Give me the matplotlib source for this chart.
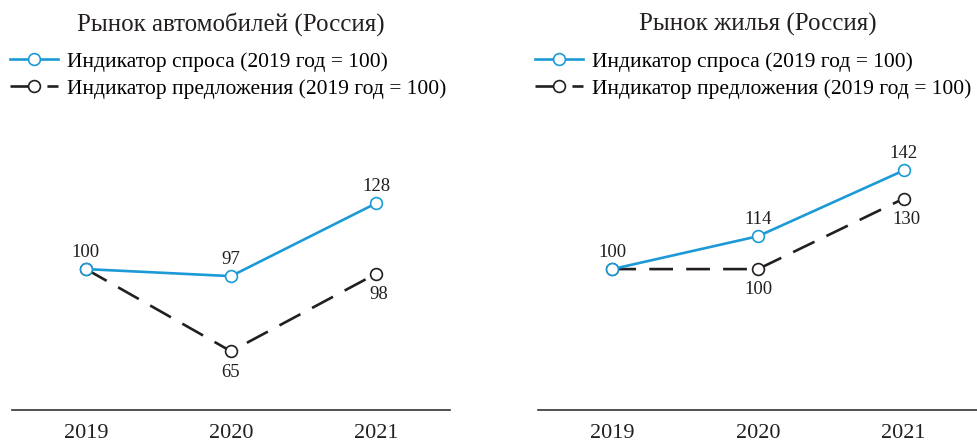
import matplotlib.pyplot as plt
from matplotlib.lines import Line2D

plt.rcParams['font.family'] = ['Liberation Serif', 'DejaVu Serif']

years = [2019, 2020, 2021]

cars_demand = [100, 97, 128]
cars_supply = [100, 65, 98]
housing_demand = [100, 114, 142]
housing_supply = [100, 100, 130]

titles = ['Рынок автомобилей (Россия)', 'Рынок жилья (Россия)']
demand_label = 'Индикатор спроса (2019 год = 100)'
supply_label = 'Индикатор предложения (2019 год = 100)'

blue = '#1b9ad6'
black = '#231f20'

fig = plt.figure(figsize=(9.78, 4.41), dpi=100)
ax1 = fig.add_axes([12 / 978, 31 / 441, 438 / 978, 310 / 441])
ax2 = fig.add_axes([538 / 978, 31 / 441, 440 / 978, 310 / 441])

# label offsets in points (dx, dy) for each point
cars_demand_off = [(0, 12), (0, 12), (0, 12)]
cars_supply_off = [(0, 12), (0, -15), (2, -15)]
housing_demand_off = [(0, 12), (0, 12), (0, 12)]
housing_supply_off = [(0, 12), (0, -15), (2, -15)]

panels = [
    (ax1, cars_demand, cars_supply, cars_demand_off, cars_supply_off, titles[0], -0.004),
    (ax2, housing_demand, housing_supply, housing_demand_off, housing_supply_off, titles[1], -0.006),
]

for ax, dem, sup, doff, soff, title, lx in panels:
    ax.plot(years, sup, color=black, lw=1.9, dashes=(9, 5), marker='o',
            markersize=8.5, markerfacecolor='white', markeredgecolor=black,
            markeredgewidth=1.2, zorder=2)
    ax.plot(years, dem, color=blue, lw=1.9, marker='o',
            markersize=8.5, markerfacecolor='white', markeredgecolor=blue,
            markeredgewidth=1.2, zorder=3)

    for i, y in enumerate(years):
        ax.annotate(str(dem[i]), (y, dem[i]), xytext=doff[i], textcoords='offset points',
                    ha='center', va='center', fontsize=13.5, color=black)
        if i > 0:
            ax.annotate(str(sup[i]), (y, sup[i]), xytext=soff[i], textcoords='offset points',
                        ha='center', va='center', fontsize=13.5, color=black)

    ax.set_xlim(2018.49, 2021.51)
    ax.set_ylim(40, 172)
    ax.set_xticks(years)
    ax.set_xticklabels([str(y) for y in years], fontsize=16)
    ax.tick_params(axis='x', length=0, pad=10, colors=black)
    ax.set_yticks([])
    for s in ['top', 'left', 'right']:
        ax.spines[s].set_visible(False)
    ax.spines['bottom'].set_color('#333333')
    ax.spines['bottom'].set_linewidth(1.2)
    ax.patch.set_alpha(0)

    ax.set_title(title, fontsize=18, color=black, pad=50)

    h_dem = Line2D([], [], color=blue, lw=1.9, marker='o', markersize=8.5,
                   markerfacecolor='white', markeredgecolor=blue, markeredgewidth=1.2)
    h_sup = Line2D([], [], color=black, lw=1.9, dashes=(9, 5), marker='o', markersize=8.5,
                   markerfacecolor='white', markeredgecolor=black, markeredgewidth=1.2)
    ax.legend([h_dem, h_sup], [demand_label, supply_label],
              loc='upper left', bbox_to_anchor=(lx, 1.155), frameon=False,
              fontsize=15.5, handlelength=2.2, handletextpad=0.45,
              borderpad=0, borderaxespad=0, labelspacing=0.3)

fig.savefig('out.png', dpi=100)
